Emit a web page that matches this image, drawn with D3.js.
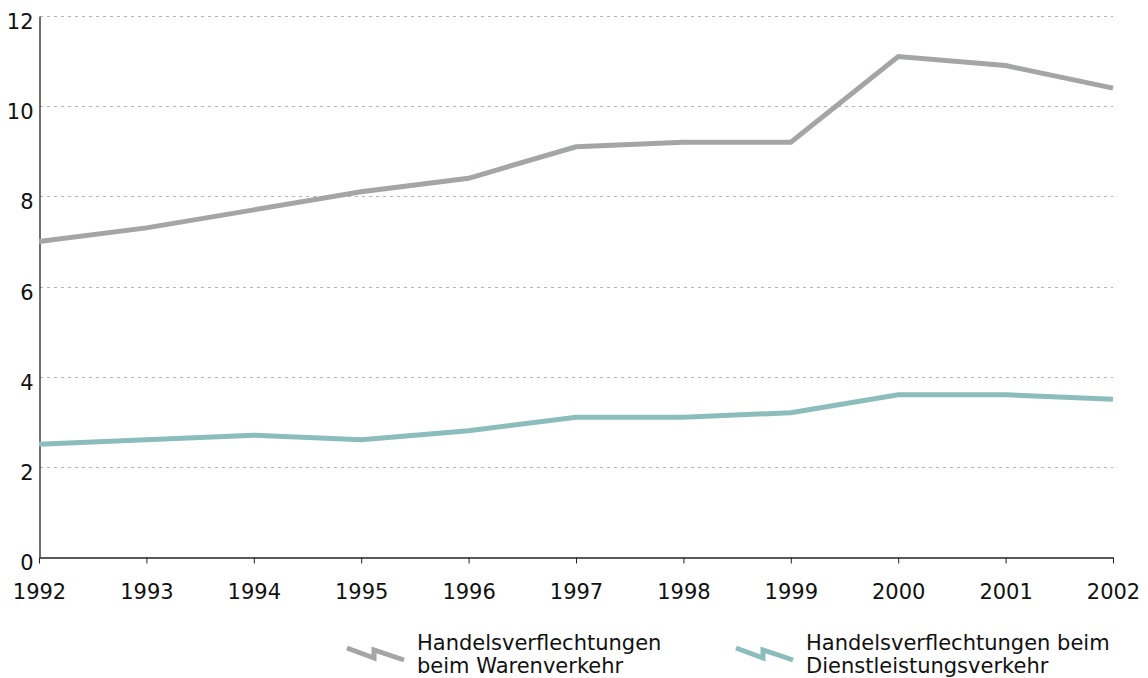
<!DOCTYPE html>
<html>
<head>
<meta charset="utf-8">
<script src="https://cdn.jsdelivr.net/npm/d3@7/dist/d3.min.js"></script>
<style>
  html, body { margin: 0; padding: 0; background: #fff; }
  svg { display: block; font-family: "DejaVu Sans", Verdana, sans-serif; }
</style>
</head>
<body>
<svg id="chart" width="1148" height="678"></svg>
<script>
// Jahre (x-Achse)
const years = [1992, 1993, 1994, 1995, 1996, 1997, 1998, 1999, 2000, 2001, 2002];
// Handelsverflechtungen beim Warenverkehr
const waren = [7.0, 7.3, 7.7, 8.1, 8.4, 9.1, 9.2, 9.2, 11.1, 10.9, 10.4];
// Handelsverflechtungen beim Dienstleistungsverkehr
const dienst = [2.5, 2.6, 2.7, 2.6, 2.8, 3.1, 3.1, 3.2, 3.6, 3.6, 3.5];
// y-Achsen-Ticks
const yTicks = [0, 2, 4, 6, 8, 10, 12];
const seriesNames = [
  ["Handelsverflechtungen", "beim Warenverkehr"],
  ["Handelsverflechtungen beim", "Dienstleistungsverkehr"]
];
const colors = ["#a3a6a5", "#8bbdbc"];

const svg = d3.select("#chart");
const plotLeft = 39, plotRight = 1113, plotTop = 16, plotBottom = 557;
const fontSize = 21;

const x = d3.scaleLinear().domain([1992, 2002]).range([plotLeft, plotRight]);
const y = d3.scaleLinear().domain([0, 12]).range([plotBottom, plotTop]);

// Gitterlinien (gepunktet)
svg.append("g")
  .selectAll("line")
  .data(yTicks.filter(d => d > 0))
  .join("line")
  .attr("x1", plotLeft + 1).attr("x2", plotRight)
  .attr("y1", d => Math.round(y(d)) + 0.5).attr("y2", d => Math.round(y(d)) + 0.5)
  .attr("stroke", "#b4b4b4")
  .attr("stroke-width", 1)
  .attr("stroke-dasharray", "3,4");

// x-Achse
const xAxis = d3.axisBottom(x)
  .tickValues(years)
  .tickFormat(d3.format("d"))
  .tickSize(6)
  .tickSizeOuter(0)
  .tickPadding(21);
const gx = svg.append("g")
  .attr("transform", `translate(0,${plotBottom + 0.5})`)
  .call(xAxis);
gx.select(".domain").attr("stroke", "#222").attr("stroke-width", 1.3);
gx.selectAll(".tick line").attr("stroke", "#222");
gx.selectAll("text").attr("font-size", fontSize).attr("fill", "#111")
  .attr("font-family", "\"DejaVu Sans\", Verdana, sans-serif");

// y-Achse
const yAxis = d3.axisLeft(y)
  .tickValues(yTicks)
  .tickSize(0)
  .tickSizeOuter(0)
  .tickPadding(6);
const gy = svg.append("g")
  .attr("transform", `translate(${plotLeft + 0.5},0)`)
  .call(yAxis);
gy.select(".domain").attr("stroke", "#222").attr("stroke-width", 1.3);
gy.selectAll("text").attr("font-size", fontSize).attr("fill", "#111")
  .attr("dy", "0.6em")
  .attr("font-family", "\"DejaVu Sans\", Verdana, sans-serif");

// Linien
const line = d3.line()
  .x((d, i) => x(years[i]))
  .y(d => y(d));

[waren, dienst].forEach((vals, k) => {
  svg.append("path")
    .datum(vals)
    .attr("fill", "none")
    .attr("stroke", colors[k])
    .attr("stroke-width", 5)
    .attr("stroke-linejoin", "miter")
    .attr("d", line);
});

// Legende
const legendX = [347, 736];
seriesNames.forEach((lines, k) => {
  const g = svg.append("g").attr("transform", `translate(${legendX[k]},0)`);
  g.append("polyline")
    .attr("points", "0,648 27,658 27,650 57,660")
    .attr("fill", "none")
    .attr("stroke", colors[k])
    .attr("stroke-width", 5);
  const t = g.append("text")
    .attr("x", 70)
    .attr("font-size", fontSize)
    .attr("fill", "#111");
  lines.forEach((s, i) => {
    t.append("tspan").attr("x", 70).attr("y", 650 + i * 23).text(s);
  });
});
</script>
</body>
</html>
